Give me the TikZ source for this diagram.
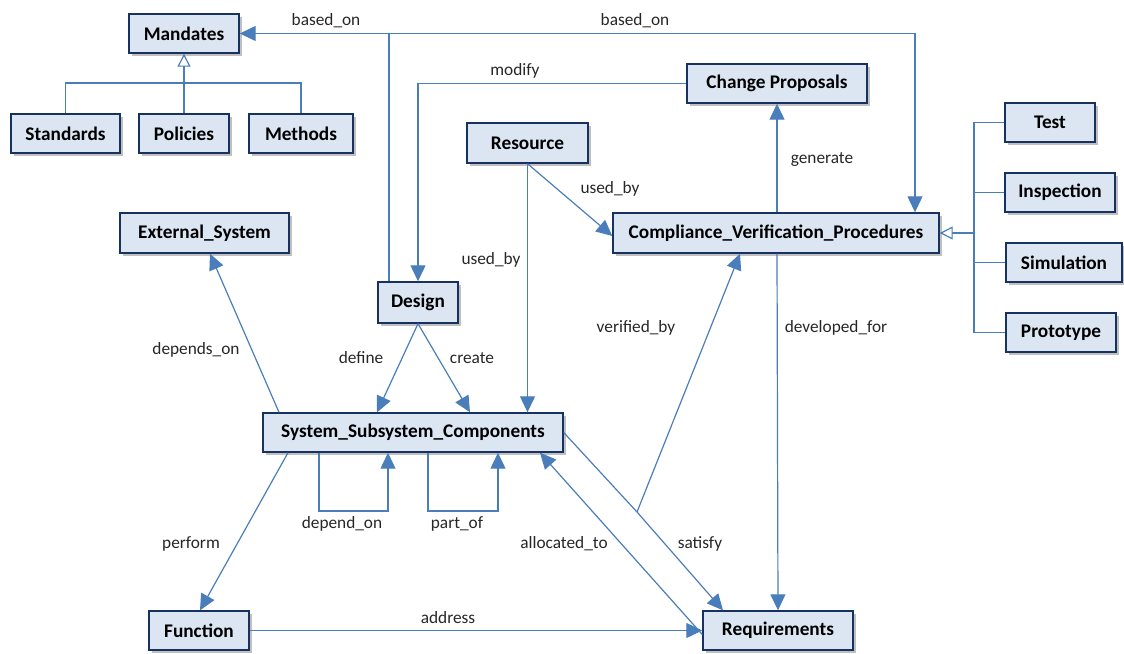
\documentclass[tikz,border=0pt]{standalone}
\usepackage{fontspec}
\setmainfont{Carlito}
\usetikzlibrary{arrows.meta,shadows}
\definecolor{boxfill}{HTML}{DCE6F2}
\definecolor{boxline}{HTML}{17325E}
\definecolor{link}{HTML}{4A7EBB}
\tikzset{
  entity/.style={draw=boxline, line width=1.4pt, fill=boxfill, inner sep=0pt,
    font=\fontsize{19.3}{22}\selectfont\bfseries,
    drop shadow={shadow xshift=3pt, shadow yshift=-3pt, opacity=0.45, fill=black!55}},
  rel/.style={draw=link, line width=1.2pt, -{Triangle[length=16pt,width=15pt]}},
  plain/.style={draw=link, line width=1.2pt},
  isa/.style={draw=link, line width=1.2pt, -{Triangle[open, fill=white, length=13pt, width=13pt]}},
  lbl/.style={font=\fontsize{17.3}{20}\selectfont, text=black!85, inner sep=0pt},
}
\begin{document}
\begin{tikzpicture}[x=1pt,y=-1pt]
\useasboundingbox (0,0) rectangle (1124,653);

% entities
\node[entity, minimum width=110pt, minimum height=39pt] (mandates) at (184,33.5) {Mandates};
\node[entity, minimum width=109pt, minimum height=39pt] (standards) at (65.5,133.5) {Standards};
\node[entity, minimum width=90pt, minimum height=39pt] (policies) at (184,133.5) {Policies};
\node[entity, minimum width=104pt, minimum height=39pt] (methods) at (301,133.5) {Methods};
\node[entity, minimum width=180pt, minimum height=39pt] (change) at (777,83.5) {Change Proposals};
\node[entity, minimum width=121pt, minimum height=40pt] (resource) at (527.5,143) {Resource};
\node[entity, minimum width=326pt, minimum height=40pt] (cvp) at (776,233) {Compliance\_Verification\_Procedures};
\node[entity, minimum width=90pt, minimum height=39pt] (test) at (1050,122.5) {Test};
\node[entity, minimum width=110pt, minimum height=39pt] (inspection) at (1060,192.5) {Inspection};
\node[entity, minimum width=116pt, minimum height=39pt] (simulation) at (1064,262.5) {Simulation};
\node[entity, minimum width=110pt, minimum height=39pt] (prototype) at (1061,332.5) {Prototype};
\node[entity, minimum width=169pt, minimum height=40pt] (extsys) at (204.5,233) {External\_System};
\node[entity, minimum width=80pt, minimum height=41pt] (design) at (418,302.5) {Design};
\node[entity, minimum width=300pt, minimum height=39pt] (ssc) at (413,432.5) {System\_Subsystem\_Components};
\node[entity, minimum width=100pt, minimum height=39pt] (function) at (199,630.5) {Function};
\node[entity, minimum width=150pt, minimum height=39pt] (req) at (778,630.5) {Requirements};

% Mandates specialisations
\coordinate (mbar) at (184,83);
\draw[plain] (standards.north) |- (mbar) -| (methods.north);
\draw[isa] (policies.north) -- (mandates.south);

% verification method specialisations
\coordinate (vbar) at (974,233);
\draw[plain] (test.west) -| (vbar) |- (prototype.west);
\draw[plain] (inspection.west) -- (inspection.west -| vbar);
\draw[plain] (simulation.west) -- (simulation.west -| vbar);
\draw[isa] (vbar) -- (cvp.east);

% based_on
\coordinate (bjoin) at (389,33.5);
\draw[rel] ([xshift=-29pt]design.north) -- (bjoin) -- (mandates.east);
\draw[rel] (bjoin) -| ([xshift=139pt]cvp.north);
\node[lbl] (lbased1) at (326,21) {based\_on};
\node[lbl] (lbased2) at (635,21) {based\_on};

% modify
\draw[rel] (change.west) -| (design.north);
\node[lbl] (lmodify) at (515,71) {modify};

% generate
\draw[rel] ([xshift=1pt]cvp.north) -- (change.south);
\node[lbl] (lgenerate) at (822,160) {generate};

% used_by
\draw[rel] (resource.south) -- (ssc.north -| resource.south);
\draw[rel] (resource.south) -- ([yshift=-3pt]cvp.west);
\node[lbl] (lused1) at (610,189) {used\_by};
\node[lbl] (lused2) at (491,260) {used\_by};

% depends_on
\draw[rel] ([xshift=-134pt]ssc.north) -- ([xshift=5.5pt]extsys.south);
\node[lbl] (ldepends) at (196,350) {depends\_on};

% define / create
\draw[rel] (design.south) -- ([xshift=-36pt]ssc.north);
\draw[rel] (design.south) -- ([xshift=57pt]ssc.north);
\node[lbl] (ldefine) at (361,358) {define};
\node[lbl] (lcreate) at (472,358) {create};

% self relations
\coordinate (loopa) at (319,511);
\coordinate (loopb) at (388,511);
\coordinate (loopc) at (428,511);
\coordinate (loopd) at (498,511);
\draw[rel] (ssc.south -| loopa) -- (loopa) -- (loopb) -- (ssc.south -| loopb);
\draw[rel] (ssc.south -| loopc) -- (loopc) -- (loopd) -- (ssc.south -| loopd);
\node[lbl] (ldependon) at (342,524) {depend\_on};
\node[lbl] (lpartof) at (457,524) {part\_of};

% perform / address
\draw[rel] ([xshift=-125pt]ssc.south) -- ([xshift=1pt]function.north);
\node[lbl] (lperform) at (191,544) {perform};
\draw[rel] (function.east) -- (req.west);
\node[lbl] (laddress) at (448,618) {address};

% allocated_to / satisfy / verified_by
\draw[rel] ([yshift=-4pt]req.west) -- ([xshift=127pt]ssc.south);
\node[lbl] (lalloc) at (564,544) {allocated\_to};
\coordinate (vjoin) at (637,512);
\draw[plain] (ssc.east) -- (vjoin);
\draw[rel] (vjoin) -- ([xshift=-55pt]req.north);
\draw[rel] (vjoin) -- ([xshift=-36pt]cvp.south);
\node[lbl] (lsatisfy) at (700,544) {satisfy};
\node[lbl] (lverified) at (636,328) {verified\_by};

% developed_for
\draw[rel] ([xshift=1pt]cvp.south) -- (req.north);
\node[lbl] (ldeveloped) at (836,328) {developed\_for};
\end{tikzpicture}
\end{document}
